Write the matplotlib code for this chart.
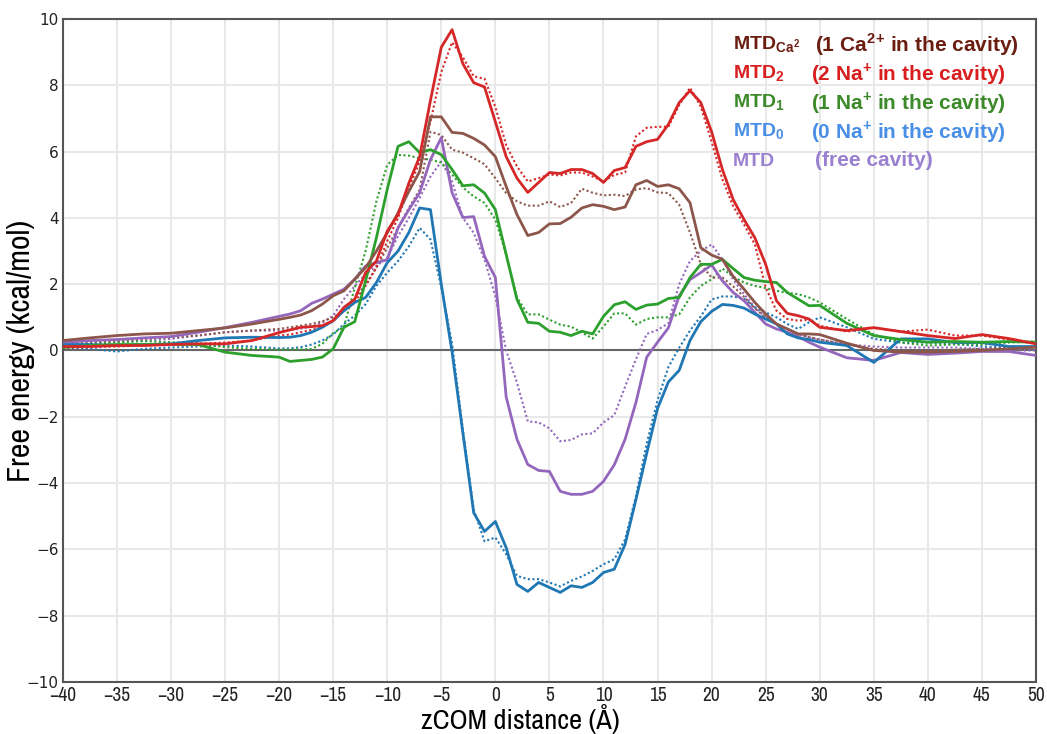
import numpy as np
import matplotlib
matplotlib.use("Agg")
import matplotlib.pyplot as plt
from matplotlib import font_manager

# x grid (Å): coarse at the far left/right, 1 Å in the middle
zcom = np.r_[np.arange(-40, -19, 2.5), np.arange(-19, 31, 1), np.arange(32.5, 50.1, 2.5)]

ca_solid = [0.3, 0.38, 0.45, 0.5, 0.52, 0.6, 0.68, 0.8, 0.94,
            1.0, 1.07, 1.2, 1.4, 1.65, 1.8, 2.15, 2.5, 3.0, 3.55, 4.15, 4.8, 5.4, 7.05,
            7.05, 6.58, 6.55, 6.4, 6.2, 5.85, 4.95, 4.1, 3.47, 3.56, 3.82, 3.83, 4.02, 4.3,
            4.4, 4.35, 4.25, 4.33, 5.0, 5.13, 4.95, 5.0, 4.88, 4.46, 3.1, 2.88, 2.75, 2.23,
            1.85, 1.45, 1.1, 0.8, 0.65, 0.5, 0.5, 0.48,
            0.22, 0.0, -0.05, -0.05, -0.03, 0.0, 0.05, 0.1]
ca_dot = [0.15, 0.25, 0.3, 0.35, 0.4, 0.45, 0.55, 0.6, 0.65,
          0.7, 0.75, 0.8, 0.88, 1.0, 1.2, 1.55, 2.0, 2.5, 3.1, 3.7, 4.3, 4.85, 6.6,
          6.5, 6.06, 5.97, 5.8, 5.62, 5.2, 4.75, 4.5, 4.37, 4.37, 4.5, 4.33, 4.45, 4.88,
          4.76, 4.68, 4.7, 4.66, 4.86, 4.9, 4.77, 4.75, 4.4, 3.56, 2.6, 2.2, 2.2, 1.93,
          1.62, 1.27, 1.0, 0.8, 0.65, 0.5, 0.4, 0.33,
          0.18, 0.05, 0.0, 0.0, 0.02, 0.05, 0.08, 0.1]
na2_solid = [0.12, 0.12, 0.15, 0.15, 0.18, 0.2, 0.2, 0.3, 0.54,
             0.62, 0.7, 0.72, 0.75, 0.9, 1.3, 1.55, 2.35, 2.7, 3.6, 4.1, 5.05, 5.85, 7.55,
             9.15, 9.68, 8.65, 8.08, 7.95, 6.9, 5.85, 5.2, 4.77, 5.07, 5.37, 5.34, 5.46, 5.46,
             5.34, 5.07, 5.43, 5.52, 6.16, 6.3, 6.37, 6.82, 7.48, 7.84, 7.48, 6.6, 5.46, 4.55,
             3.95, 3.4, 2.6, 1.5, 1.12, 1.05, 0.95, 0.7,
             0.6, 0.69, 0.57, 0.45, 0.36, 0.48, 0.36, 0.2]
na2_dot = [0.08, 0.1, 0.12, 0.15, 0.18, 0.2, 0.24, 0.3, 0.45,
           0.48, 0.55, 0.62, 0.72, 0.88, 1.2, 1.45, 1.95, 2.5, 3.3, 4.0, 4.9, 5.7, 6.9,
           8.4, 9.3, 8.85, 8.27, 8.2, 7.35, 6.2, 5.55, 5.1, 5.2, 5.31, 5.28, 5.37, 5.37,
           5.25, 5.1, 5.3, 5.37, 6.46, 6.72, 6.75, 6.75, 7.4, 7.93, 7.36, 6.3, 5.16, 4.35,
           3.8, 3.2, 1.9, 1.2, 0.95, 0.9, 0.93, 0.75,
           0.57, 0.68, 0.57, 0.63, 0.45, 0.45, 0.33, 0.2]
na1_solid = [0.09, 0.15, 0.18, 0.18, 0.18, 0.18, -0.05, -0.15, -0.2,
             -0.33, -0.3, -0.27, -0.2, 0.05, 0.7, 0.87, 2.1, 3.4, 4.86, 6.16, 6.3, 5.97, 6.06,
             5.91, 5.46, 4.97, 5.0, 4.75, 4.25, 2.9, 1.54, 0.85, 0.82, 0.58, 0.55, 0.45, 0.58,
             0.5, 1.03, 1.38, 1.47, 1.24, 1.37, 1.4, 1.57, 1.6, 2.2, 2.6, 2.6, 2.75, 2.47,
             2.2, 2.12, 2.08, 2.05, 1.75, 1.55, 1.35, 1.36,
             0.82, 0.45, 0.33, 0.25, 0.27, 0.25, 0.27, 0.25]
na1_dot = [0.12, 0.2, 0.25, 0.28, 0.25, 0.22, 0.1, 0.05, 0.02,
           0.03, 0.03, 0.05, 0.2, 0.52, 0.72, 1.9, 3.0, 4.5, 5.6, 5.9, 5.88, 5.8, 5.76,
           5.67, 5.31, 4.92, 4.65, 4.45, 3.95, 2.9, 1.6, 1.09, 1.09, 0.93, 0.78, 0.72, 0.54,
           0.36, 0.72, 1.12, 1.12, 0.78, 0.95, 1.0, 1.0, 1.09, 1.6, 1.95, 2.15, 2.47, 2.23,
           2.05, 1.95, 1.88, 1.8, 1.74, 1.7, 1.6, 1.45,
           0.95, 0.48, 0.24, 0.15, 0.18, 0.18, 0.24, 0.27]
na0_solid = [0.18, 0.18, 0.15, 0.18, 0.2, 0.3, 0.38, 0.4, 0.39,
             0.4, 0.45, 0.55, 0.7, 0.9, 1.2, 1.45, 1.6, 2.05, 2.65, 3.0, 3.56, 4.3, 4.25,
             2.0, -0.05, -2.5, -4.9, -5.46, -5.16, -5.95, -7.06, -7.27, -7.0, -7.15, -7.3, -7.1, -7.15,
             -7.0, -6.7, -6.6, -5.85, -4.5, -3.1, -1.75, -0.95, -0.6, 0.3, 0.87, 1.18, 1.39, 1.36,
             1.28, 1.1, 0.95, 0.8, 0.5, 0.38, 0.33, 0.25,
             0.15, -0.36, 0.35, 0.35, 0.24, 0.24, 0.12, 0.12]
na0_dot = [0.09, 0.05, -0.03, 0.05, 0.09, 0.12, 0.15, 0.12, 0.06,
           0.06, 0.1, 0.18, 0.3, 0.48, 0.8, 1.05, 1.4, 1.95, 2.35, 2.7, 3.14, 3.7, 3.35,
           1.9, 0.2, -2.4, -4.8, -5.76, -5.64, -6.15, -6.8, -6.9, -6.9, -7.0, -7.12, -6.95, -6.82,
           -6.65, -6.45, -6.3, -5.7, -4.4, -2.8, -1.5, -0.5, 0.08, 0.6, 1.03, 1.54, 1.63, 1.63,
           1.56, 1.3, 1.15, 1.0, 0.8, 0.65, 0.85, 1.0,
           0.7, 0.35, 0.24, 0.24, 0.2, 0.12, 0.09, 0.09]
free_solid = [0.24, 0.3, 0.33, 0.38, 0.42, 0.55, 0.69, 0.85, 1.03,
              1.1, 1.2, 1.42, 1.55, 1.7, 1.85, 2.15, 2.55, 2.65, 2.74, 3.7, 4.25, 4.76, 5.76,
              6.42, 4.76, 4.01, 4.04, 2.84, 2.2, -1.4, -2.68, -3.44, -3.62, -3.65, -4.25, -4.34, -4.34,
              -4.25, -3.95, -3.45, -2.68, -1.57, -0.2, 0.25, 0.68, 1.65, 2.14, 2.35, 2.58, 2.1, 1.75,
              1.5, 1.15, 0.8, 0.65, 0.55, 0.42, 0.25, 0.1,
              -0.22, -0.3, -0.06, -0.12, -0.08, -0.03, -0.03, -0.15]
free_dot = [0.15, 0.2, 0.25, 0.3, 0.35, 0.45, 0.55, 0.6, 0.6,
            0.62, 0.66, 0.72, 0.85, 1.05, 1.55, 1.95, 2.3, 2.55, 2.8, 3.45, 4.0, 4.6, 5.25,
            5.7, 5.1, 4.0, 3.55, 2.74, 1.63, 0.0, -0.97, -2.14, -2.17, -2.35, -2.74, -2.7, -2.53,
            -2.5, -2.17, -1.95, -1.09, -0.27, 0.5, 0.62, 0.82, 2.0, 2.7, 3.0, 3.2, 2.75, 2.14,
            1.7, 1.3, 1.0, 0.8, 0.65, 0.5, 0.4, 0.33,
            0.18, 0.12, 0.09, 0.09, 0.09, 0.05, 0.0, 0.0]

x_ticks = list(range(-40, 51, 5))
y_ticks = list(range(-10, 11, 2))


def find_narrow():
    """Pick a condensed sans font if one is installed."""
    for f in font_manager.fontManager.ttflist:
        if "Narrow" in f.name or "Condensed" in f.name:
            return f.name
    return None


narrow = find_narrow()

plt.rcParams["mathtext.fontset"] = "custom"
plt.rcParams["mathtext.rm"] = "Liberation Sans"
plt.rcParams["mathtext.bf"] = "Liberation Sans:bold"

fig = plt.figure(figsize=(10.47, 7.34), dpi=100)
ax = fig.add_axes([0.060, 0.071, 0.9295, 0.903])

series = [
    (free_solid, free_dot, "tab:purple"),
    (na0_solid, na0_dot, "tab:blue"),
    (na1_solid, na1_dot, "tab:green"),
    (ca_solid, ca_dot, "tab:brown"),
    (na2_solid, na2_dot, "tab:red"),
]
for solid, dot, color in series:
    ax.plot(zcom, dot, color=color, lw=1.5, ls=(0, (1, 1.2)), zorder=3)
    ax.plot(zcom, solid, color=color, lw=2.0, zorder=4)

ax.axhline(0, color="#666666", lw=1.5, zorder=2)

ax.set_xlim(-40, 50)
ax.set_ylim(-10, 10)
ax.set_xticks(x_ticks)
ax.set_yticks(y_ticks)
ax.set_yticklabels([str(t).replace("-", "\u2212") for t in y_ticks], fontsize=11)
ax.tick_params(length=0, pad=3, colors="#222222")
ax.grid(True, color="#e8e8e8", lw=1.5, zorder=0)
ax.set_axisbelow(True)
for sp in ax.spines.values():
    sp.set_color("#555555")
    sp.set_linewidth(1.5)

xlabels = [str(t).replace("-", "\u2212") for t in x_ticks]
if narrow:
    ax.set_xticklabels(xlabels, family=narrow, fontsize=14)
    ax.set_xlabel("zCOM distance (Å)", family=narrow, fontsize=20.5)
    ax.set_ylabel("Free energy (kcal/mol)", family=narrow, fontsize=23)
else:
    ax.set_xticklabels(xlabels, fontsize=11.5)
    ax.set_xlabel("zCOM distance (Å)", fontsize=15)
    ax.set_ylabel("Free energy (kcal/mol)", fontsize=14.5)

# place the axis labels where the reference has them
ax.xaxis.set_label_coords((520 - 63) / 973, (682 - 704) / 663)
ax.xaxis.label.set_va("top")
ax.yaxis.set_label_coords((21 - 63) / 973, 0.5)
ax.yaxis.label.set_va("center")

legend_rows = [
    (r"MTD$_{\mathbf{Ca^2}}$", r"(1 Ca$^{\mathbf{2}}$$^{\mathbf{+}}$ in the cavity)", "#6b1d10", 45, 815),
    (r"MTD$_{\mathbf{2}}$", r"(2 Na$^{\mathbf{+}}$ in the cavity)", "#d81e1e", 74, 811),
    (r"MTD$_{\mathbf{1}}$", r"(1 Na$^{\mathbf{+}}$ in the cavity)", "#3c8a2a", 103, 811),
    (r"MTD$_{\mathbf{0}}$", r"(0 Na$^{\mathbf{+}}$ in the cavity)", "#4a8fe6", 132, 811),
    ("MTD", "(free cavity)", "#9a80d0", 161, 815),
]
W, H = 1047, 734
for name, desc, color, ypx, xdesc in legend_rows:
    fig.text(733 / W, 1 - ypx / H, name, color=color, fontsize=14,
             fontweight="bold", family="Liberation Sans", va="center", ha="left")
    fig.text(xdesc / W, 1 - ypx / H, desc, color=color, fontsize=15,
             fontweight="bold", family="Liberation Sans", va="center", ha="left")

fig.savefig("out.png", dpi=100, facecolor="white")
